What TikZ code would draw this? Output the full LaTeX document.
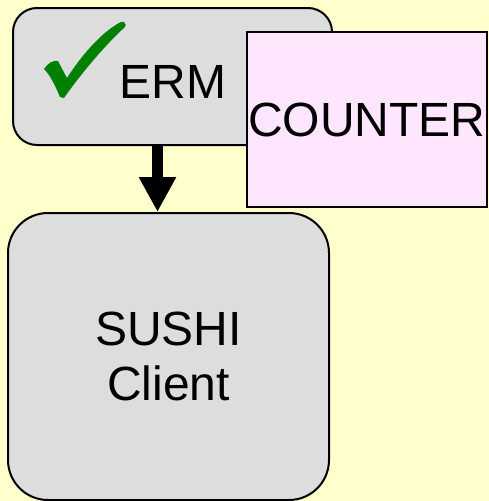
\documentclass[tikz,border=0pt]{standalone}
\usepackage{fontspec}
\setmainfont{Liberation Sans}
\usetikzlibrary{arrows.meta}
\definecolor{bgyellow}{HTML}{FFFFCC}
\definecolor{boxgrey}{HTML}{DDDDDD}
\definecolor{boxpink}{HTML}{FFE6FF}
\definecolor{tickgreen}{HTML}{008000}
\tikzset{
  greybox/.style={draw=black, line width=2pt, fill=boxgrey, inner sep=0pt},
  pinkbox/.style={draw=black, line width=2pt, fill=boxpink, inner sep=0pt},
  bigtext/.style={font=\fontsize{48}{55}\selectfont, inner sep=0pt, align=center},
  flowarrow/.style={line width=11pt, -{Triangle[length=35pt 0 0, width=35pt 0 0]}}
}
\begin{document}
\begin{tikzpicture}[x=1pt, y=-1pt]
  \useasboundingbox[fill=bgyellow] (0,0) rectangle (489,501);
  % ERM box
  \node[greybox, rounded corners=24pt, minimum width=319pt, minimum height=137pt] (erm) at (172.5,76.5) {};
  % check mark
  \fill[tickgreen] (44,69) .. controls (48,63) and (53,60) .. (58,61) -- (67,78)
     .. controls (85,50) and (105,30) .. (121,22) .. controls (124,21) and (127,24) .. (125,27)
     .. controls (105,45) and (80,75) .. (64,98) -- (60,97)
     .. controls (55,85) and (50,75) .. (44,69) -- cycle;
  \node[bigtext, anchor=base west] (ermlabel) at (119.5,98) {ERM};
  % COUNTER box
  \node[pinkbox, minimum width=240pt, minimum height=175pt, bigtext] (counter) at (367,119.5) {COUNTER};
  % SUSHI Client box
  \node[greybox, rounded corners=40pt, minimum width=321pt, minimum height=287pt, bigtext] (sushi) at (168.5,356.5) {SUSHI\\Client};
  % arrow
  \draw[flowarrow] (erm.south -| 157.5,0) -- (sushi.north -| 157.5,0);
\end{tikzpicture}
\end{document}
